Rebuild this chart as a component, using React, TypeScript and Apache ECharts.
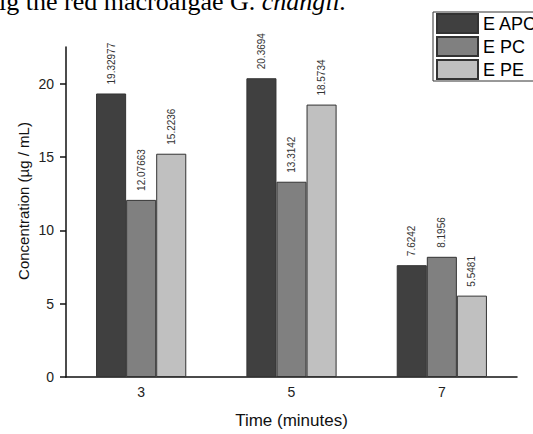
import React, { useEffect, useRef } from "react";
import * as echarts from "echarts";

const categories = ["3", "5", "7"];
const seriesNames = ["E APC", "E PC", "E PE"];
const apcValues = [19.32977, 20.3694, 7.6242];
const pcValues = [12.07663, 13.3142, 8.1956];
const peValues = [15.2236, 18.5734, 5.5481];
const seriesColors = ["#404040", "#808080", "#c0c0c0"];
const yTicks = { min: 0, max: 22.5, interval: 5 };

export default function App() {
  const ref = useRef<HTMLDivElement>(null);
  useEffect(() => {
    if (!ref.current) return;
    const chart = echarts.init(ref.current, null, { renderer: "svg" });
    const values = [apcValues, pcValues, peValues];
    const font = "Liberation Sans, Arial, sans-serif";
    chart.setOption({
      animation: false,
      textStyle: { fontFamily: font },
      grid: { left: 66, right: 16, top: 47, bottom: 53, containLabel: false },
      legend: {
        orient: "vertical",
        left: 433,
        top: 12,
        itemWidth: 41,
        itemHeight: 19,
        itemGap: 2,
        padding: [1, 40, 1, 3],
        borderColor: "#333",
        borderWidth: 1,
        icon: "rect",
        textStyle: { fontSize: 18, lineHeight: 19, color: "#000", fontFamily: font },
        data: seriesNames,
      },
      xAxis: {
        type: "category",
        data: categories,
        boundaryGap: true,
        name: "Time (minutes)",
        nameLocation: "middle",
        nameGap: 35,
        nameTextStyle: { fontSize: 17, color: "#111", fontFamily: font },
        axisLine: { lineStyle: { color: "#111", width: 1.5 } },
        axisTick: { alignWithLabel: true, length: 6, lineStyle: { color: "#111", width: 1.5 } },
        axisLabel: { fontSize: 14, color: "#222", margin: 8, fontFamily: font },
        splitLine: { show: false },
      },
      yAxis: {
        type: "value",
        min: yTicks.min,
        max: yTicks.max,
        interval: yTicks.interval,
        axisLine: { show: true, lineStyle: { color: "#111", width: 1.5 } },
        axisTick: { show: true, length: 6, lineStyle: { color: "#111", width: 1.5 } },
        axisLabel: {
          fontSize: 14,
          color: "#222",
          margin: 12,
          fontFamily: font,
          showMaxLabel: false,
          formatter: (v: number) => (v % 5 === 0 ? String(v) : ""),
        },
        splitLine: { show: false },
      },
      graphic: [
        {
          type: "text",
          x: -1,
          y: 1,
          style: {
            text: "ig the red macroalgae G. {i|changii.}",
            font: "26px 'Liberation Serif', 'Times New Roman', serif",
            fill: "#000",
            verticalAlign: "middle",
            rich: {
              i: {
                fontStyle: "italic",
                fontSize: 26,
                fontFamily: "'Liberation Serif', 'Times New Roman', serif",
                fill: "#000",
              },
            },
          },
        },
        {
          type: "text",
          x: 23,
          y: 201,
          rotation: Math.PI / 2,
          style: {
            text: "Concentration (µg / mL)",
            font: `15px ${font}`,
            fill: "#111",
            align: "center",
            verticalAlign: "middle",
          },
        },
      ],
      series: seriesNames.map((name, i) => ({
        name,
        type: "bar",
        data: values[i],
        barGap: "0%",
        barCategoryGap: "40%",
        itemStyle: { color: seriesColors[i], borderColor: "#333", borderWidth: 1 },
        label: {
          show: true,
          position: "top",
          rotate: 90,
          align: "left",
          verticalAlign: "middle",
          distance: 9,
          fontSize: 10,
          color: "#333",
          fontFamily: font,
          formatter: (p: any) => String(p.value),
        },
      })),
    });
    return () => chart.dispose();
  }, []);
  return <div ref={ref} style={{ width: 533, height: 434, position: "absolute", left: 0, top: 0 }} />;
}
